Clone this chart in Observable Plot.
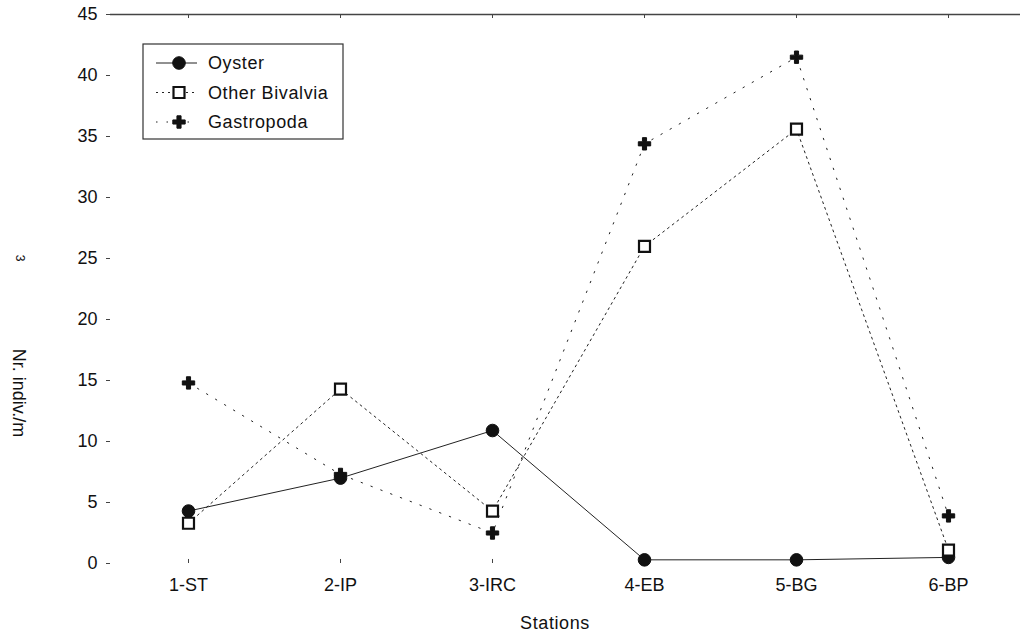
<!DOCTYPE html>
<html><head><meta charset="utf-8">
<script src="https://cdn.jsdelivr.net/npm/d3@7"></script>
<script src="https://cdn.jsdelivr.net/npm/@observablehq/plot@0.6"></script>
<style>body{margin:0;background:#fff} svg{font-family:"Liberation Sans",Arial,sans-serif}</style>
</head><body><div id="chart"></div>
<script>
const stations = ["1-ST","2-IP","3-IRC","4-EB","5-BG","6-BP"];
const oyster = [4.3, 7.0, 10.9, 0.3, 0.3, 0.5];
const otherBivalvia = [3.3, 14.3, 4.3, 26.0, 35.6, 1.1];
const gastropoda = [14.8, 7.3, 2.5, 34.4, 41.5, 3.9];
const yTicks = [0, 5, 10, 15, 20, 25, 30, 35, 40, 45];
const seriesNames = ["Oyster", "Other Bivalvia", "Gastropoda"];

const seriesValues = [oyster, otherBivalvia, gastropoda];
const data = seriesNames.flatMap((s, i) => stations.map((st, j) => ({series: s, station: st, value: seriesValues[i][j]})));
const bySeries = s => data.filter(d => d.series === s);

const ink = "#111";
const styles = {
  "Oyster": {dash: null, symbol: "circle", fill: ink, stroke: ink, r: 6.3, sw: 1},
  "Other Bivalvia": {dash: "2,4", symbol: "square", fill: "white", stroke: ink, r: 6.2, sw: 2.2},
  "Gastropoda": {dash: "1.5,9", symbol: "cross", fill: ink, stroke: ink, r: 5.2, sw: 1}
};

const marks = [];
for (const s of seriesNames) {
  const st = styles[s];
  marks.push(Plot.line(bySeries(s), {x: "station", y: "value", stroke: "#222", strokeWidth: 1, strokeDasharray: st.dash}));
}
for (const s of seriesNames) {
  const st = styles[s];
  marks.push(Plot.dot(bySeries(s), {x: "station", y: "value", symbol: () => st.symbol, r: st.r, fill: st.fill, stroke: st.stroke, strokeWidth: st.sw}));
}

const plot = Plot.plot({
  width: 1020,
  height: 636,
  marginLeft: 110,
  marginRight: 0,
  marginTop: 14,
  marginBottom: 73,
  style: {fontFamily: '"Liberation Sans", Arial, sans-serif', fontSize: "18px", color: "#111", background: "white"},
  x: {type: "point", domain: stations, range: [187, 949], padding: 0},
  y: {domain: [0, 45]},
  symbol: {type: "identity"},
  marks: [
    Plot.ruleY([45], {stroke: "#444", strokeWidth: 1.3}),
    Plot.axisY({ticks: yTicks, tickSize: 4, tickPadding: 9, fontSize: 18, label: null, line: true, stroke: "#444"}),
    Plot.axisX({tickSize: 0, tickPadding: 15, fontSize: 18, label: null, line: true, stroke: "#444"}),
    Plot.ruleX(stations, {x: d => d, y1: 0, y2: 0.33, stroke: "#444"}),
    Plot.ruleX(stations, {x: d => d, y1: 44.67, y2: 45, stroke: "#444"}),
    ...marks
  ]
});
document.getElementById("chart").appendChild(plot);

// legend and axis titles
const svg = d3.select(plot);
const g = svg.append("g").attr("font-family", '"Liberation Sans", Arial, sans-serif').attr("font-size", 18).attr("fill", "#111").attr("text-anchor", "start");
g.append("rect").attr("x", 143).attr("y", 44).attr("width", 200).attr("height", 95).attr("fill", "white").attr("stroke", "#333").attr("stroke-width", 1.2);
const sym = {circle: d3.symbolCircle, square: d3.symbolSquare, cross: d3.symbolCross};
seriesNames.forEach((s, i) => {
  const st = styles[s];
  const y = 63 + i * 29.5;
  g.append("line").attr("x1", 156).attr("x2", 197).attr("y1", y).attr("y2", y).attr("stroke", "#222").attr("stroke-width", 1).attr("stroke-dasharray", st.dash);
  g.append("path").attr("transform", `translate(179,${y})`).attr("d", d3.symbol(sym[st.symbol], Math.PI * st.r * st.r)())
    .attr("fill", st.fill).attr("stroke", st.stroke).attr("stroke-width", st.sw);
  g.append("text").attr("x", 208).attr("y", y).attr("dy", "0.35em").attr("letter-spacing", "0.6px").text(s);
});
g.append("text").attr("transform", "translate(19,393) rotate(90)").attr("text-anchor", "middle").attr("dy", "0.35em").text("Nr. indiv./m");
g.append("text").attr("transform", "translate(20,258) rotate(90)").attr("text-anchor", "middle").attr("dy", "0.35em").attr("font-size", 12).text("3");
g.append("text").attr("x", 555).attr("y", 623).attr("text-anchor", "middle").attr("dy", "0.35em").attr("letter-spacing", "0.6px").text("Stations");
</script></body></html>
